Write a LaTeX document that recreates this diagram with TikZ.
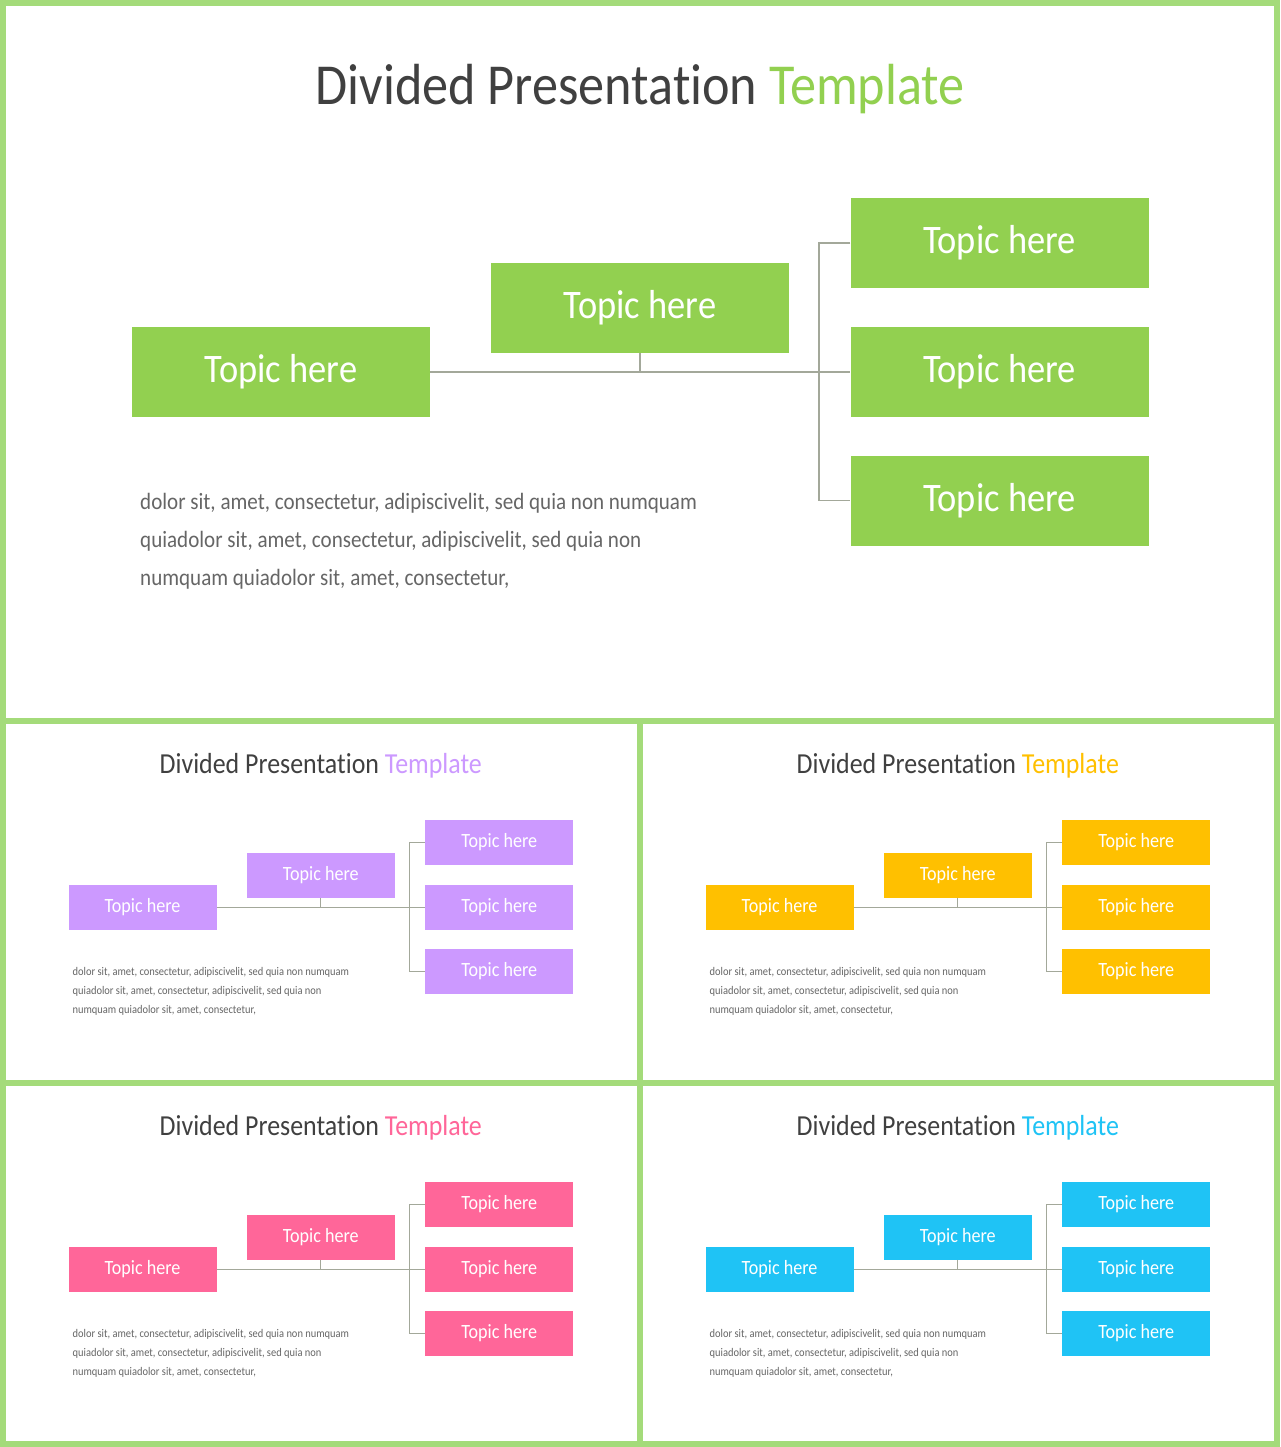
\documentclass[tikz,border=0pt]{standalone}
\usepackage{fontspec}
\setmainfont{Carlito}[FakeStretch=0.9, Ligatures=NoCommon]
\definecolor{frameG}{RGB}{164,219,122}
\definecolor{accG}{HTML}{92D050}
\definecolor{accP}{HTML}{CC99FF}
\definecolor{accY}{HTML}{FFC000}
\definecolor{accK}{HTML}{FF6699}
\definecolor{accB}{HTML}{1FC3F5}
\definecolor{ttlgray}{HTML}{404040}
\definecolor{paragray}{HTML}{666666}
\definecolor{conngray}{HTML}{A3A89A}
\newcommand{\slideDraw}[3]{% #1 prefix, #2 accent colour, #3 connector width
  \node[ttl] (#1t) at (634,99) {Divided Presentation \textcolor{#2}{Template}};
  \node[topicbox, fill=#2] (#1L) at (275,366) {Topic here};
  \node[topicbox, fill=#2] (#1M) at (634,302) {Topic here};
  \node[topicbox, fill=#2] (#1R1) at (993.5,237) {Topic here};
  \node[topicbox, fill=#2] (#1R2) at (993.5,366) {Topic here};
  \node[topicbox, fill=#2] (#1R3) at (993.5,494.5) {Topic here};
  \coordinate (#1bar) at (813,366);
  \draw[conn, line width=#3] (#1L.east) -- (#1R2.west);
  \draw[conn, line width=#3] (#1M.south) -- (#1M.south |- #1L.east);
  \draw[conn, line width=#3] (#1R1.west) -- (#1R1.west -| #1bar) -- (#1R3.west -| #1bar) -- (#1R3.west);
  \node[para] (#1p1) at (134,503) {dolor sit, amet, consectetur, adipiscivelit, sed quia non numquam};
  \node[para] (#1p2) at (134,541) {quiadolor sit, amet, consectetur, adipiscivelit, sed quia non};
  \node[para] (#1p3) at (134,579) {numquam quiadolor sit, amet, consectetur,};
}
\begin{document}
\begin{tikzpicture}[x=1pt,y=-1pt,
  ttl/.style={anchor=base, inner sep=0, text=ttlgray, font=\fontsize{58}{60}\selectfont},
  topicbox/.style={draw=none, minimum width=298, minimum height=90, inner sep=0, text=white, font=\fontsize{40.5}{44}\selectfont},
  conn/.style={draw=conngray},
  para/.style={anchor=base west, inner sep=0, text=paragray, font=\fontsize{23.4}{26}\selectfont},
  framestyle/.style={draw=frameG, line width=6pt},
  mini/.style={xscale=0.4965, yscale=0.5, every node/.append style={transform shape}}]
\useasboundingbox (0,0) rectangle (1280,1447);
\fill[white] (0,0) rectangle (1280,1447);
% big slide
\begin{scope}[shift={(6,6)}]
  \slideDraw{a}{accG}{1.4pt}
\end{scope}
% small slides
\begin{scope}[shift={(6,724)}, mini]
  \slideDraw{b}{accP}{0.8pt}
\end{scope}
\begin{scope}[shift={(643,724)}, mini]
  \slideDraw{c}{accY}{0.8pt}
\end{scope}
\begin{scope}[shift={(6,1086)}, mini]
  \slideDraw{d}{accK}{0.8pt}
\end{scope}
\begin{scope}[shift={(643,1086)}, mini]
  \slideDraw{e}{accB}{0.8pt}
\end{scope}
% frame
\draw[framestyle] (3,3) rectangle (1277,1444);
\draw[framestyle] (3,721) -- (1277,721);
\draw[framestyle] (3,1083) -- (1277,1083);
\draw[framestyle] (639.5,721) -- (639.5,1444);
\end{tikzpicture}
\end{document}
